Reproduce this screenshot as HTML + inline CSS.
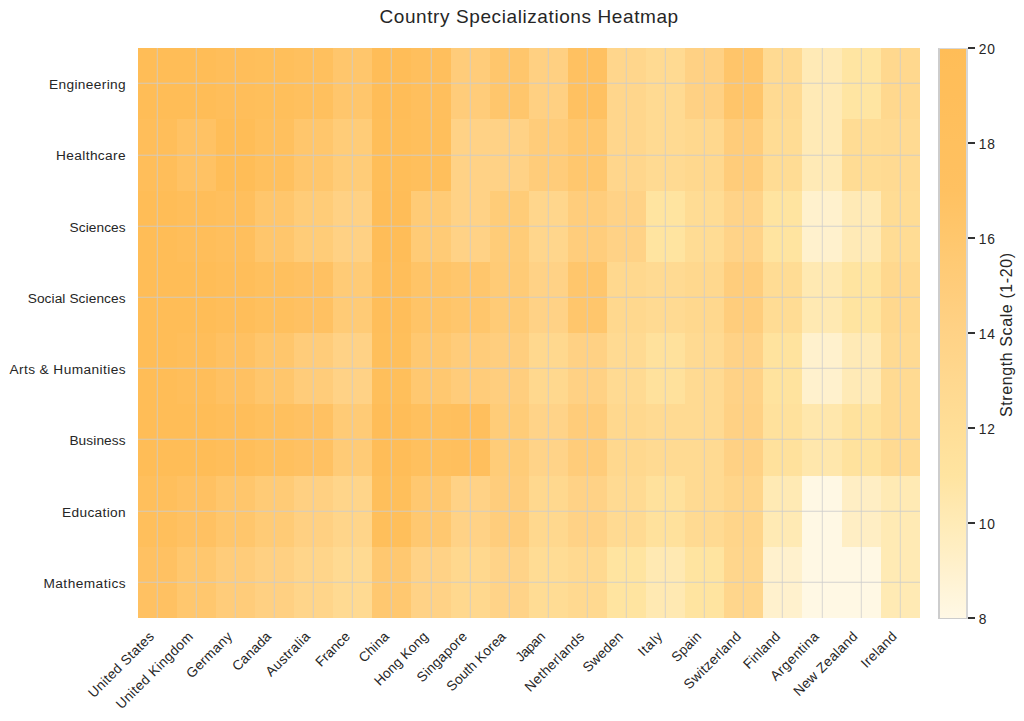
<!DOCTYPE html>
<html><head><meta charset="utf-8"><title>Country Specializations Heatmap</title>
<style>
html,body{margin:0;padding:0;background:#fff;}
body{width:1024px;height:721px;position:relative;overflow:hidden;font-family:"Liberation Sans",sans-serif;color:#262626;}
.abs{position:absolute;}
#plot{position:absolute;left:137.80px;top:48.20px;width:782.00px;height:569.90px;}
.c{position:absolute;}
.vg{position:absolute;top:0;width:1px;height:100%;background:rgba(204,204,204,0.6);box-shadow:-1px 0 0 rgba(204,204,204,0.16);}
.hg{position:absolute;left:0;height:1px;width:100%;background:rgba(204,204,204,0.62);box-shadow:0 -1px 0 rgba(204,204,204,0.22);}
.yl{position:absolute;white-space:nowrap;font-size:13.7px;line-height:16px;height:16px;}
.xl{position:absolute;white-space:nowrap;font-size:13.7px;line-height:15px;height:15px;transform-origin:100% 0;transform:rotate(-45deg);}
.tk{position:absolute;left:967.6px;width:7.3px;height:2px;background:#333;}
.tl{position:absolute;white-space:nowrap;font-size:13.8px;line-height:16px;height:16px;}
</style></head><body>

<div class="abs" style="left:379.44px;top:5.75px;white-space:nowrap;font-size:19.0px;line-height:22px;height:22px;letter-spacing:0.593px;">Country Specializations Heatmap</div>
<div id="plot">
<div class="c" style="left:0.00px;top:0.00px;width:39.12px;height:71.26px;background:#ffbd57"></div>
<div class="c" style="left:39.10px;top:0.00px;width:39.12px;height:71.26px;background:#ffbd57"></div>
<div class="c" style="left:78.20px;top:0.00px;width:39.12px;height:71.26px;background:#ffbe5a"></div>
<div class="c" style="left:117.30px;top:0.00px;width:39.12px;height:71.26px;background:#ffbf5b"></div>
<div class="c" style="left:156.40px;top:0.00px;width:39.12px;height:71.26px;background:#ffc05e"></div>
<div class="c" style="left:195.50px;top:0.00px;width:39.12px;height:71.26px;background:#ffc66c"></div>
<div class="c" style="left:234.60px;top:0.00px;width:39.12px;height:71.26px;background:#ffbd58"></div>
<div class="c" style="left:273.70px;top:0.00px;width:39.12px;height:71.26px;background:#ffbf5d"></div>
<div class="c" style="left:312.80px;top:0.00px;width:39.12px;height:71.26px;background:#ffcc7a"></div>
<div class="c" style="left:351.90px;top:0.00px;width:39.12px;height:71.26px;background:#ffc66c"></div>
<div class="c" style="left:391.00px;top:0.00px;width:39.12px;height:71.26px;background:#ffd082"></div>
<div class="c" style="left:430.10px;top:0.00px;width:39.12px;height:71.26px;background:#ffc161"></div>
<div class="c" style="left:469.20px;top:0.00px;width:39.12px;height:71.26px;background:#ffd68c"></div>
<div class="c" style="left:508.30px;top:0.00px;width:39.12px;height:71.26px;background:#ffda92"></div>
<div class="c" style="left:547.40px;top:0.00px;width:39.12px;height:71.26px;background:#ffd184"></div>
<div class="c" style="left:586.50px;top:0.00px;width:39.12px;height:71.26px;background:#ffc56a"></div>
<div class="c" style="left:625.60px;top:0.00px;width:39.12px;height:71.26px;background:#ffda92"></div>
<div class="c" style="left:664.70px;top:0.00px;width:39.12px;height:71.26px;background:#ffeab6"></div>
<div class="c" style="left:703.80px;top:0.00px;width:39.12px;height:71.26px;background:#ffe5a2"></div>
<div class="c" style="left:742.90px;top:0.00px;width:39.12px;height:71.26px;background:#ffd88e"></div>
<div class="c" style="left:0.00px;top:71.24px;width:39.12px;height:71.26px;background:#ffbe5a"></div>
<div class="c" style="left:39.10px;top:71.24px;width:39.12px;height:71.26px;background:#ffc264"></div>
<div class="c" style="left:78.20px;top:71.24px;width:39.12px;height:71.26px;background:#ffbd57"></div>
<div class="c" style="left:117.30px;top:71.24px;width:39.12px;height:71.26px;background:#ffc05e"></div>
<div class="c" style="left:156.40px;top:71.24px;width:39.12px;height:71.26px;background:#ffc66c"></div>
<div class="c" style="left:195.50px;top:71.24px;width:39.12px;height:71.26px;background:#ffcc78"></div>
<div class="c" style="left:234.60px;top:71.24px;width:39.12px;height:71.26px;background:#ffbe59"></div>
<div class="c" style="left:273.70px;top:71.24px;width:39.12px;height:71.26px;background:#ffbf5c"></div>
<div class="c" style="left:312.80px;top:71.24px;width:39.12px;height:71.26px;background:#ffd286"></div>
<div class="c" style="left:351.90px;top:71.24px;width:39.12px;height:71.26px;background:#ffd286"></div>
<div class="c" style="left:391.00px;top:71.24px;width:39.12px;height:71.26px;background:#ffcc7a"></div>
<div class="c" style="left:430.10px;top:71.24px;width:39.12px;height:71.26px;background:#ffc76e"></div>
<div class="c" style="left:469.20px;top:71.24px;width:39.12px;height:71.26px;background:#ffd68c"></div>
<div class="c" style="left:508.30px;top:71.24px;width:39.12px;height:71.26px;background:#ffda92"></div>
<div class="c" style="left:547.40px;top:71.24px;width:39.12px;height:71.26px;background:#ffd88e"></div>
<div class="c" style="left:586.50px;top:71.24px;width:39.12px;height:71.26px;background:#ffcc7a"></div>
<div class="c" style="left:625.60px;top:71.24px;width:39.12px;height:71.26px;background:#ffdc94"></div>
<div class="c" style="left:664.70px;top:71.24px;width:39.12px;height:71.26px;background:#ffeab6"></div>
<div class="c" style="left:703.80px;top:71.24px;width:39.12px;height:71.26px;background:#ffdc94"></div>
<div class="c" style="left:742.90px;top:71.24px;width:39.12px;height:71.26px;background:#ffda92"></div>
<div class="c" style="left:0.00px;top:142.47px;width:39.12px;height:71.26px;background:#ffbd57"></div>
<div class="c" style="left:39.10px;top:142.47px;width:39.12px;height:71.26px;background:#ffbe5a"></div>
<div class="c" style="left:78.20px;top:142.47px;width:39.12px;height:71.26px;background:#ffbf5d"></div>
<div class="c" style="left:117.30px;top:142.47px;width:39.12px;height:71.26px;background:#ffc66c"></div>
<div class="c" style="left:156.40px;top:142.47px;width:39.12px;height:71.26px;background:#ffcc78"></div>
<div class="c" style="left:195.50px;top:142.47px;width:39.12px;height:71.26px;background:#ffd184"></div>
<div class="c" style="left:234.60px;top:142.47px;width:39.12px;height:71.26px;background:#ffbd58"></div>
<div class="c" style="left:273.70px;top:142.47px;width:39.12px;height:71.26px;background:#ffcb76"></div>
<div class="c" style="left:312.80px;top:142.47px;width:39.12px;height:71.26px;background:#ffd286"></div>
<div class="c" style="left:351.90px;top:142.47px;width:39.12px;height:71.26px;background:#ffcc78"></div>
<div class="c" style="left:391.00px;top:142.47px;width:39.12px;height:71.26px;background:#ffd68c"></div>
<div class="c" style="left:430.10px;top:142.47px;width:39.12px;height:71.26px;background:#ffcd7c"></div>
<div class="c" style="left:469.20px;top:142.47px;width:39.12px;height:71.26px;background:#ffd286"></div>
<div class="c" style="left:508.30px;top:142.47px;width:39.12px;height:71.26px;background:#ffe4a0"></div>
<div class="c" style="left:547.40px;top:142.47px;width:39.12px;height:71.26px;background:#ffdc94"></div>
<div class="c" style="left:586.50px;top:142.47px;width:39.12px;height:71.26px;background:#ffd388"></div>
<div class="c" style="left:625.60px;top:142.47px;width:39.12px;height:71.26px;background:#ffe4a0"></div>
<div class="c" style="left:664.70px;top:142.47px;width:39.12px;height:71.26px;background:#fff1cd"></div>
<div class="c" style="left:703.80px;top:142.47px;width:39.12px;height:71.26px;background:#ffeab6"></div>
<div class="c" style="left:742.90px;top:142.47px;width:39.12px;height:71.26px;background:#ffdc94"></div>
<div class="c" style="left:0.00px;top:213.71px;width:39.12px;height:71.26px;background:#ffbd57"></div>
<div class="c" style="left:39.10px;top:213.71px;width:39.12px;height:71.26px;background:#ffbd57"></div>
<div class="c" style="left:78.20px;top:213.71px;width:39.12px;height:71.26px;background:#ffbe5a"></div>
<div class="c" style="left:117.30px;top:213.71px;width:39.12px;height:71.26px;background:#ffc05e"></div>
<div class="c" style="left:156.40px;top:213.71px;width:39.12px;height:71.26px;background:#ffc162"></div>
<div class="c" style="left:195.50px;top:213.71px;width:39.12px;height:71.26px;background:#ffcb76"></div>
<div class="c" style="left:234.60px;top:213.71px;width:39.12px;height:71.26px;background:#ffbe5a"></div>
<div class="c" style="left:273.70px;top:213.71px;width:39.12px;height:71.26px;background:#ffc467"></div>
<div class="c" style="left:312.80px;top:213.71px;width:39.12px;height:71.26px;background:#ffc66c"></div>
<div class="c" style="left:351.90px;top:213.71px;width:39.12px;height:71.26px;background:#ffcb76"></div>
<div class="c" style="left:391.00px;top:213.71px;width:39.12px;height:71.26px;background:#ffd286"></div>
<div class="c" style="left:430.10px;top:213.71px;width:39.12px;height:71.26px;background:#ffc66c"></div>
<div class="c" style="left:469.20px;top:213.71px;width:39.12px;height:71.26px;background:#ffd88e"></div>
<div class="c" style="left:508.30px;top:213.71px;width:39.12px;height:71.26px;background:#ffda92"></div>
<div class="c" style="left:547.40px;top:213.71px;width:39.12px;height:71.26px;background:#ffd88e"></div>
<div class="c" style="left:586.50px;top:213.71px;width:39.12px;height:71.26px;background:#ffcd7c"></div>
<div class="c" style="left:625.60px;top:213.71px;width:39.12px;height:71.26px;background:#ffdc94"></div>
<div class="c" style="left:664.70px;top:213.71px;width:39.12px;height:71.26px;background:#ffe9b2"></div>
<div class="c" style="left:703.80px;top:213.71px;width:39.12px;height:71.26px;background:#ffe4a0"></div>
<div class="c" style="left:742.90px;top:213.71px;width:39.12px;height:71.26px;background:#ffd88e"></div>
<div class="c" style="left:0.00px;top:284.95px;width:39.12px;height:71.26px;background:#ffbd57"></div>
<div class="c" style="left:39.10px;top:284.95px;width:39.12px;height:71.26px;background:#ffbe5a"></div>
<div class="c" style="left:78.20px;top:284.95px;width:39.12px;height:71.26px;background:#ffc162"></div>
<div class="c" style="left:117.30px;top:284.95px;width:39.12px;height:71.26px;background:#ffc66c"></div>
<div class="c" style="left:156.40px;top:284.95px;width:39.12px;height:71.26px;background:#ffcc7a"></div>
<div class="c" style="left:195.50px;top:284.95px;width:39.12px;height:71.26px;background:#ffd286"></div>
<div class="c" style="left:234.60px;top:284.95px;width:39.12px;height:71.26px;background:#ffbf5b"></div>
<div class="c" style="left:273.70px;top:284.95px;width:39.12px;height:71.26px;background:#ffc870"></div>
<div class="c" style="left:312.80px;top:284.95px;width:39.12px;height:71.26px;background:#ffcc7a"></div>
<div class="c" style="left:351.90px;top:284.95px;width:39.12px;height:71.26px;background:#ffce7e"></div>
<div class="c" style="left:391.00px;top:284.95px;width:39.12px;height:71.26px;background:#ffd88e"></div>
<div class="c" style="left:430.10px;top:284.95px;width:39.12px;height:71.26px;background:#ffd184"></div>
<div class="c" style="left:469.20px;top:284.95px;width:39.12px;height:71.26px;background:#ffda92"></div>
<div class="c" style="left:508.30px;top:284.95px;width:39.12px;height:71.26px;background:#ffe19c"></div>
<div class="c" style="left:547.40px;top:284.95px;width:39.12px;height:71.26px;background:#ffda92"></div>
<div class="c" style="left:586.50px;top:284.95px;width:39.12px;height:71.26px;background:#ffd286"></div>
<div class="c" style="left:625.60px;top:284.95px;width:39.12px;height:71.26px;background:#ffe39e"></div>
<div class="c" style="left:664.70px;top:284.95px;width:39.12px;height:71.26px;background:#fff1cd"></div>
<div class="c" style="left:703.80px;top:284.95px;width:39.12px;height:71.26px;background:#ffeab6"></div>
<div class="c" style="left:742.90px;top:284.95px;width:39.12px;height:71.26px;background:#ffda92"></div>
<div class="c" style="left:0.00px;top:356.19px;width:39.12px;height:71.26px;background:#ffbd57"></div>
<div class="c" style="left:39.10px;top:356.19px;width:39.12px;height:71.26px;background:#ffbd57"></div>
<div class="c" style="left:78.20px;top:356.19px;width:39.12px;height:71.26px;background:#ffbe5a"></div>
<div class="c" style="left:117.30px;top:356.19px;width:39.12px;height:71.26px;background:#ffc05e"></div>
<div class="c" style="left:156.40px;top:356.19px;width:39.12px;height:71.26px;background:#ffc162"></div>
<div class="c" style="left:195.50px;top:356.19px;width:39.12px;height:71.26px;background:#ffcb76"></div>
<div class="c" style="left:234.60px;top:356.19px;width:39.12px;height:71.26px;background:#ffbd58"></div>
<div class="c" style="left:273.70px;top:356.19px;width:39.12px;height:71.26px;background:#ffc05e"></div>
<div class="c" style="left:312.80px;top:356.19px;width:39.12px;height:71.26px;background:#ffbf5d"></div>
<div class="c" style="left:351.90px;top:356.19px;width:39.12px;height:71.26px;background:#ffcc78"></div>
<div class="c" style="left:391.00px;top:356.19px;width:39.12px;height:71.26px;background:#ffd388"></div>
<div class="c" style="left:430.10px;top:356.19px;width:39.12px;height:71.26px;background:#ffcc7a"></div>
<div class="c" style="left:469.20px;top:356.19px;width:39.12px;height:71.26px;background:#ffd88e"></div>
<div class="c" style="left:508.30px;top:356.19px;width:39.12px;height:71.26px;background:#ffda92"></div>
<div class="c" style="left:547.40px;top:356.19px;width:39.12px;height:71.26px;background:#ffda92"></div>
<div class="c" style="left:586.50px;top:356.19px;width:39.12px;height:71.26px;background:#ffd184"></div>
<div class="c" style="left:625.60px;top:356.19px;width:39.12px;height:71.26px;background:#ffe19c"></div>
<div class="c" style="left:664.70px;top:356.19px;width:39.12px;height:71.26px;background:#ffe7ac"></div>
<div class="c" style="left:703.80px;top:356.19px;width:39.12px;height:71.26px;background:#ffe29d"></div>
<div class="c" style="left:742.90px;top:356.19px;width:39.12px;height:71.26px;background:#ffda92"></div>
<div class="c" style="left:0.00px;top:427.42px;width:39.12px;height:71.26px;background:#ffbf5c"></div>
<div class="c" style="left:39.10px;top:427.42px;width:39.12px;height:71.26px;background:#ffc162"></div>
<div class="c" style="left:78.20px;top:427.42px;width:39.12px;height:71.26px;background:#ffc66c"></div>
<div class="c" style="left:117.30px;top:427.42px;width:39.12px;height:71.26px;background:#ffcb76"></div>
<div class="c" style="left:156.40px;top:427.42px;width:39.12px;height:71.26px;background:#ffd082"></div>
<div class="c" style="left:195.50px;top:427.42px;width:39.12px;height:71.26px;background:#ffd58a"></div>
<div class="c" style="left:234.60px;top:427.42px;width:39.12px;height:71.26px;background:#ffbf5b"></div>
<div class="c" style="left:273.70px;top:427.42px;width:39.12px;height:71.26px;background:#ffc870"></div>
<div class="c" style="left:312.80px;top:427.42px;width:39.12px;height:71.26px;background:#ffd286"></div>
<div class="c" style="left:351.90px;top:427.42px;width:39.12px;height:71.26px;background:#ffcd7c"></div>
<div class="c" style="left:391.00px;top:427.42px;width:39.12px;height:71.26px;background:#ffd88e"></div>
<div class="c" style="left:430.10px;top:427.42px;width:39.12px;height:71.26px;background:#ffd286"></div>
<div class="c" style="left:469.20px;top:427.42px;width:39.12px;height:71.26px;background:#ffda92"></div>
<div class="c" style="left:508.30px;top:427.42px;width:39.12px;height:71.26px;background:#ffe19c"></div>
<div class="c" style="left:547.40px;top:427.42px;width:39.12px;height:71.26px;background:#ffda92"></div>
<div class="c" style="left:586.50px;top:427.42px;width:39.12px;height:71.26px;background:#ffd58a"></div>
<div class="c" style="left:625.60px;top:427.42px;width:39.12px;height:71.26px;background:#ffeab4"></div>
<div class="c" style="left:664.70px;top:427.42px;width:39.12px;height:71.26px;background:#fff8e4"></div>
<div class="c" style="left:703.80px;top:427.42px;width:39.12px;height:71.26px;background:#ffeec4"></div>
<div class="c" style="left:742.90px;top:427.42px;width:39.12px;height:71.26px;background:#ffeab4"></div>
<div class="c" style="left:0.00px;top:498.66px;width:39.12px;height:71.26px;background:#ffc162"></div>
<div class="c" style="left:39.10px;top:498.66px;width:39.12px;height:71.26px;background:#ffc76e"></div>
<div class="c" style="left:78.20px;top:498.66px;width:39.12px;height:71.26px;background:#ffcc7a"></div>
<div class="c" style="left:117.30px;top:498.66px;width:39.12px;height:71.26px;background:#ffd082"></div>
<div class="c" style="left:156.40px;top:498.66px;width:39.12px;height:71.26px;background:#ffd58a"></div>
<div class="c" style="left:195.50px;top:498.66px;width:39.12px;height:71.26px;background:#ffda92"></div>
<div class="c" style="left:234.60px;top:498.66px;width:39.12px;height:71.26px;background:#ffc870"></div>
<div class="c" style="left:273.70px;top:498.66px;width:39.12px;height:71.26px;background:#ffd286"></div>
<div class="c" style="left:312.80px;top:498.66px;width:39.12px;height:71.26px;background:#ffd88e"></div>
<div class="c" style="left:351.90px;top:498.66px;width:39.12px;height:71.26px;background:#ffd388"></div>
<div class="c" style="left:391.00px;top:498.66px;width:39.12px;height:71.26px;background:#ffdc94"></div>
<div class="c" style="left:430.10px;top:498.66px;width:39.12px;height:71.26px;background:#ffd990"></div>
<div class="c" style="left:469.20px;top:498.66px;width:39.12px;height:71.26px;background:#ffe4a0"></div>
<div class="c" style="left:508.30px;top:498.66px;width:39.12px;height:71.26px;background:#ffe9b2"></div>
<div class="c" style="left:547.40px;top:498.66px;width:39.12px;height:71.26px;background:#ffe4a0"></div>
<div class="c" style="left:586.50px;top:498.66px;width:39.12px;height:71.26px;background:#ffd68c"></div>
<div class="c" style="left:625.60px;top:498.66px;width:39.12px;height:71.26px;background:#fff1cd"></div>
<div class="c" style="left:664.70px;top:498.66px;width:39.12px;height:71.26px;background:#fff8e4"></div>
<div class="c" style="left:703.80px;top:498.66px;width:39.12px;height:71.26px;background:#fff8e4"></div>
<div class="c" style="left:742.90px;top:498.66px;width:39.12px;height:71.26px;background:#ffeab4"></div>
<div class="vg" style="left:19.05px"></div>
<div class="vg" style="left:58.15px"></div>
<div class="vg" style="left:97.25px"></div>
<div class="vg" style="left:136.35px"></div>
<div class="vg" style="left:175.45px"></div>
<div class="vg" style="left:214.55px"></div>
<div class="vg" style="left:253.65px"></div>
<div class="vg" style="left:292.75px"></div>
<div class="vg" style="left:331.85px"></div>
<div class="vg" style="left:370.95px"></div>
<div class="vg" style="left:410.05px"></div>
<div class="vg" style="left:449.15px"></div>
<div class="vg" style="left:488.25px"></div>
<div class="vg" style="left:527.35px"></div>
<div class="vg" style="left:566.45px"></div>
<div class="vg" style="left:605.55px"></div>
<div class="vg" style="left:644.65px"></div>
<div class="vg" style="left:683.75px"></div>
<div class="vg" style="left:722.85px"></div>
<div class="vg" style="left:761.95px"></div>
<div class="hg" style="top:35.12px"></div>
<div class="hg" style="top:106.36px"></div>
<div class="hg" style="top:177.59px"></div>
<div class="hg" style="top:248.83px"></div>
<div class="hg" style="top:320.07px"></div>
<div class="hg" style="top:391.31px"></div>
<div class="hg" style="top:462.54px"></div>
<div class="hg" style="top:533.78px"></div>
</div>
<div class="yl" style="left:49.10px;top:77.17px;letter-spacing:0.344px">Engineering</div>
<div class="yl" style="left:56.10px;top:148.41px;letter-spacing:0.366px">Healthcare</div>
<div class="yl" style="left:69.53px;top:219.64px;letter-spacing:0.075px">Sciences</div>
<div class="yl" style="left:27.67px;top:290.88px;letter-spacing:0.093px">Social Sciences</div>
<div class="yl" style="left:9.40px;top:362.12px;letter-spacing:0.416px">Arts &amp; Humanities</div>
<div class="yl" style="left:69.38px;top:433.36px;letter-spacing:0.096px">Business</div>
<div class="yl" style="left:62.12px;top:504.59px;letter-spacing:0.323px">Education</div>
<div class="yl" style="left:43.44px;top:575.83px;letter-spacing:0.457px">Mathematics</div>
<div class="xl" style="left:60.13px;top:628.81px;width:86.34px;letter-spacing:0.347px">United States</div>
<div class="xl" style="left:83.23px;top:628.81px;width:102.34px;letter-spacing:0.380px">United Kingdom</div>
<div class="xl" style="left:166.06px;top:628.81px;width:58.60px;letter-spacing:0.384px">Germany</div>
<div class="xl" style="left:215.25px;top:628.81px;width:48.52px;letter-spacing:0.113px">Canada</div>
<div class="xl" style="left:246.47px;top:628.81px;width:56.39px;letter-spacing:0.391px">Australia</div>
<div class="xl" style="left:299.57px;top:628.81px;width:42.40px;letter-spacing:-0.043px">France</div>
<div class="xl" style="left:344.65px;top:628.81px;width:36.42px;letter-spacing:0.163px">China</div>
<div class="xl" style="left:350.85px;top:628.81px;width:69.32px;letter-spacing:0.102px">Hong Kong</div>
<div class="xl" style="left:394.94px;top:628.81px;width:64.33px;letter-spacing:0.240px">Singapore</div>
<div class="xl" style="left:421.11px;top:628.81px;width:77.25px;letter-spacing:0.114px">South Korea</div>
<div class="xl" style="left:501.90px;top:628.81px;width:35.56px;letter-spacing:-0.434px">Japan</div>
<div class="xl" style="left:498.84px;top:628.81px;width:77.72px;letter-spacing:0.391px">Netherlands</div>
<div class="xl" style="left:565.28px;top:628.81px;width:50.39px;letter-spacing:0.184px">Sweden</div>
<div class="xl" style="left:627.10px;top:628.81px;width:27.66px;letter-spacing:0.638px">Italy</div>
<div class="xl" style="left:658.24px;top:628.81px;width:35.62px;letter-spacing:0.152px">Spain</div>
<div class="xl" style="left:658.59px;top:628.81px;width:74.37px;letter-spacing:0.362px">Switzerland</div>
<div class="xl" style="left:726.51px;top:628.81px;width:45.56px;letter-spacing:0.109px">Finland</div>
<div class="xl" style="left:748.97px;top:628.81px;width:62.19px;letter-spacing:0.450px">Argentina</div>
<div class="xl" style="left:766.48px;top:628.81px;width:83.79px;letter-spacing:0.313px">New Zealand</div>
<div class="xl" style="left:845.27px;top:628.81px;width:44.10px;letter-spacing:0.373px">Ireland</div>
<div class="abs" style="left:939px;top:48px;width:28px;height:570px;background:linear-gradient(to bottom,#ffbd57 0.00%,#ffbe59 4.17%,#ffbe5a 8.33%,#ffbf5c 12.50%,#ffc05e 16.67%,#ffc05f 20.83%,#ffc161 25.00%,#ffc467 29.17%,#ffc76d 33.33%,#ffca74 37.50%,#ffcc7a 41.67%,#ffcf80 45.83%,#ffd286 50.00%,#ffd58a 54.17%,#ffd88f 58.33%,#ffdb93 62.50%,#ffde97 66.67%,#ffe19c 70.83%,#ffe4a0 75.00%,#ffe7ac 79.17%,#ffebb7 83.33%,#ffeec2 87.50%,#fff1ce 91.67%,#fff5da 95.83%,#fff8e5 100.00%);"></div>
<div class="abs" style="left:938px;top:48px;width:30px;height:571px;border-left:2px solid #cdcdcd;border-right:2px solid #d6d6d6;border-top:1px solid #d8d8d8;border-bottom:1px solid #cccccc;box-sizing:border-box;"></div>
<div class="tk" style="top:617px"></div>
<div class="tl" style="left:978.70px;top:612px;letter-spacing:0.000px">8</div>
<div class="tk" style="top:522px"></div>
<div class="tl" style="left:978.70px;top:517px;letter-spacing:0.865px">10</div>
<div class="tk" style="top:427px"></div>
<div class="tl" style="left:978.70px;top:422px;letter-spacing:0.865px">12</div>
<div class="tk" style="top:332px"></div>
<div class="tl" style="left:978.70px;top:327px;letter-spacing:0.865px">14</div>
<div class="tk" style="top:237px"></div>
<div class="tl" style="left:978.70px;top:232px;letter-spacing:0.865px">16</div>
<div class="tk" style="top:142px"></div>
<div class="tl" style="left:978.70px;top:137px;letter-spacing:0.865px">18</div>
<div class="tk" style="top:47px"></div>
<div class="tl" style="left:978.70px;top:42px;letter-spacing:0.865px">20</div>
<div class="abs" style="left:1007.00px;top:334.50px;width:0;height:0;"><div style="position:absolute;left:-82.09px;top:-9px;width:164.18px;white-space:nowrap;font-size:16.0px;line-height:18px;height:18px;letter-spacing:0.605px;transform:rotate(-90deg);">Strength Scale (1-20)</div></div>
</body></html>
